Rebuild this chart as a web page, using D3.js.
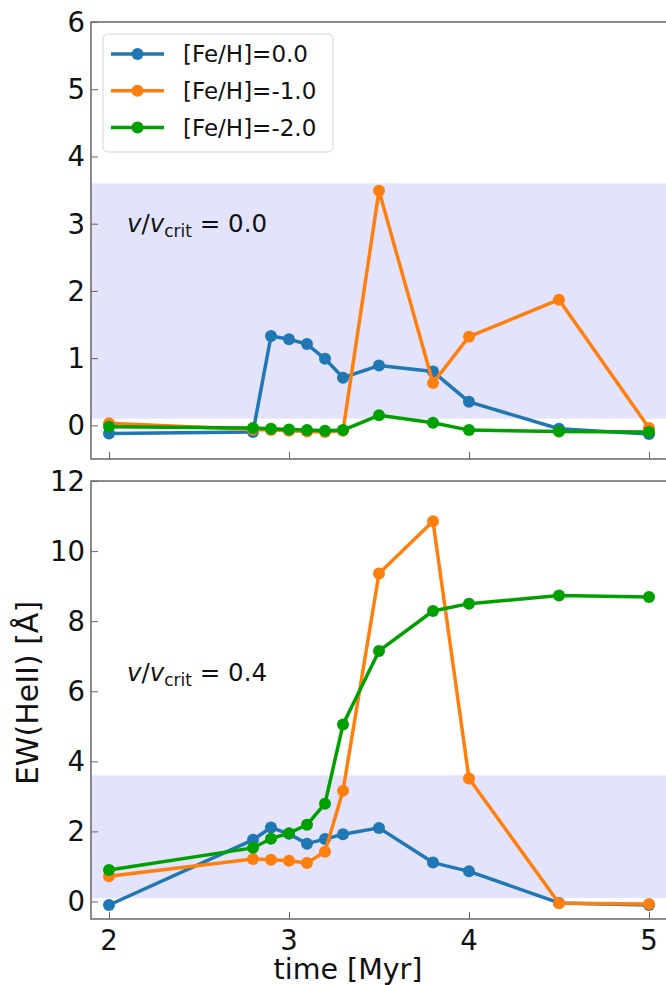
<!DOCTYPE html>
<html>
<head>
<meta charset="utf-8">
<script src="https://cdn.jsdelivr.net/npm/d3@7"></script>
<style>
  html, body { margin: 0; padding: 0; background: #fff; }
  svg { display: block; font-family: 'DejaVu Sans', sans-serif; }
</style>
</head>
<body>
<svg id="chart"></svg>
<script>
// ages of the models (Myr), shared by every series
const times = [2.0, 2.8, 2.9, 3.0, 3.1, 3.2, 3.3, 3.5, 3.8, 4.0, 4.5, 5.0];
const seriesNames = ['[Fe/H]=0.0', '[Fe/H]=-1.0', '[Fe/H]=-2.0'];
const seriesColors = ['#1f77b4', '#ff7f0e', '#00a000'];

// v/vcrit = 0.0
const ewRot00Fe0 = [-0.12, -0.10, 1.33, 1.28, 1.21, 0.99, 0.71, 0.89, 0.80, 0.35, -0.05, -0.13];
const ewRot00Fe1 = [0.03, -0.06, -0.07, -0.08, -0.09, -0.10, -0.08, 3.49, 0.63, 1.32, 1.87, -0.04];
const ewRot00Fe2 = [-0.02, -0.04, -0.05, -0.06, -0.07, -0.08, -0.07, 0.15, 0.04, -0.07, -0.09, -0.10];

// v/vcrit = 0.4
const ewRot04Fe0 = [-0.10, 1.76, 2.11, 1.93, 1.65, 1.78, 1.92, 2.10, 1.11, 0.86, -0.04, -0.10];
const ewRot04Fe1 = [0.72, 1.21, 1.19, 1.16, 1.10, 1.42, 3.16, 9.36, 10.85, 3.51, -0.05, -0.07];
const ewRot04Fe2 = [0.90, 1.53, 1.79, 1.95, 2.19, 2.79, 5.05, 7.15, 8.29, 8.50, 8.73, 8.69];

// observed range (shaded band)
const bandRange = [0.1, 3.6];

const xTicks = [2, 3, 4, 5];
const yTicksTop = [0, 1, 2, 3, 4, 5, 6];
const yTicksBottom = [0, 2, 4, 6, 8, 10, 12];

const w = 666, h = 985;
const plotLeft = 91, plotRight = 667;
const tickLen = 7, axisColor = '#666';

const chart = d3.select('#chart')
    .attr('width', w)
    .attr('height', h);

const xScale = d3.scaleLinear()
    .domain([1.9, 5.1])
    .range([plotLeft, plotRight]);

const makePanel = (id, top, bottom, yDomain, yTicks, series, label, labelY, showX) => {
    const yScale = d3.scaleLinear()
        .domain(yDomain)
        .range([bottom, top]);

    const g = chart.append('g');

    g.append('clipPath')
        .attr('id', id)
        .append('rect')
        .attr('x', plotLeft)
        .attr('y', top)
        .attr('width', plotRight - plotLeft)
        .attr('height', bottom - top);

    const inner = g.append('g').attr('clip-path', `url(#${id})`);

    inner.append('rect')
        .attr('x', plotLeft)
        .attr('width', plotRight - plotLeft)
        .attr('y', yScale(bandRange[1]))
        .attr('height', yScale(bandRange[0]) - yScale(bandRange[1]))
        .style('fill', '#e3e3fb');

    const line = d3.line()
        .x((d, i) => xScale(times[i]))
        .y(d => yScale(d));

    series.forEach((values, s) => {
        inner.append('path')
            .datum(values)
            .attr('d', line)
            .style('fill', 'none')
            .style('stroke', seriesColors[s])
            .style('stroke-width', 3.5)
            .style('stroke-linejoin', 'round');

        inner.selectAll(`.dot-${s}`)
            .data(values)
            .enter()
            .append('circle')
            .attr('cx', (d, i) => xScale(times[i]))
            .attr('cy', d => yScale(d))
            .attr('r', 6)
            .style('fill', seriesColors[s]);
    });

    // axes, ticks pointing inwards
    const yAxis = g.append('g')
        .attr('transform', `translate(${plotLeft}, 0)`)
        .call(d3.axisRight(yScale).tickValues(yTicks).tickSize(tickLen).tickFormat(''));
    yAxis.select('.domain').remove();
    yAxis.selectAll('line').style('stroke', axisColor);

    g.selectAll('.ylab')
        .data(yTicks)
        .enter()
        .append('text')
        .attr('x', plotLeft - 6)
        .attr('y', d => yScale(d))
        .attr('dy', '0.36em')
        .attr('text-anchor', 'end')
        .attr('font-size', '27.5px')
        .style('fill', '#111')
        .text(d => d);

    const xAxis = g.append('g')
        .attr('transform', `translate(0, ${bottom})`)
        .call(d3.axisTop(xScale).tickValues(xTicks).tickSize(tickLen).tickFormat(''));
    xAxis.select('.domain').remove();
    xAxis.selectAll('line').style('stroke', axisColor);

    if (showX) {
        g.selectAll('.xlab')
            .data(xTicks)
            .enter()
            .append('text')
            .attr('x', d => xScale(d))
            .attr('y', bottom + 31)
            .attr('text-anchor', 'middle')
            .attr('font-size', '27.5px')
            .style('fill', '#111')
            .text(d => d);
    }

    g.append('rect')
        .attr('x', plotLeft)
        .attr('y', top)
        .attr('width', plotRight - plotLeft)
        .attr('height', bottom - top)
        .style('fill', 'none')
        .style('stroke', axisColor)
        .style('stroke-width', 1.5);

    // v/vcrit annotation
    const note = g.append('text')
        .attr('x', 127)
        .attr('y', labelY)
        .attr('font-size', '24.5px')
        .style('fill', '#111');
    note.append('tspan').attr('font-style', 'italic').text('v');
    note.append('tspan').text('/');
    note.append('tspan').attr('font-style', 'italic').text('v');
    note.append('tspan').attr('font-size', '17px').attr('dy', 5).text('crit');
    note.append('tspan').attr('dy', -5).text(' = ' + label);

    return g;
};

makePanel('clipTop', 22, 459, [-0.5, 6], yTicksTop,
    [ewRot00Fe0, ewRot00Fe1, ewRot00Fe2], '0.0', 232, false);
makePanel('clipBottom', 481, 919, [-0.5, 12], yTicksBottom,
    [ewRot04Fe0, ewRot04Fe1, ewRot04Fe2], '0.4', 681, true);

// Legend in the top panel
const makeLegend = () => {
    const legend = chart.append('g');
    legend.append('rect')
        .attr('x', 103)
        .attr('y', 34)
        .attr('rx', 5)
        .attr('width', 230)
        .attr('height', 118)
        .style('fill', 'rgba(255, 255, 255, 0.8)')
        .style('stroke', '#d5d5d5');

    seriesNames.forEach((name, i) => {
        const y = 54 + i * 36.8;
        legend.append('line')
            .attr('x1', 111)
            .attr('x2', 164)
            .attr('y1', y)
            .attr('y2', y)
            .style('stroke', seriesColors[i])
            .style('stroke-width', 3.5);
        legend.append('circle')
            .attr('cx', 137.5)
            .attr('cy', y)
            .attr('r', 6)
            .style('fill', seriesColors[i]);
        legend.append('text')
            .attr('x', 183)
            .attr('y', y)
            .attr('dy', '0.36em')
            .attr('font-size', '23px')
            .style('fill', '#111')
            .text(name);
    });
};
makeLegend();

// Axis titles
chart.append('text')
    .attr('x', 348)
    .attr('y', 979)
    .attr('text-anchor', 'middle')
    .attr('font-size', '28.5px')
    .style('fill', '#111')
    .text('time [Myr]');

chart.append('text')
    .attr('transform', 'translate(38, 693) rotate(-90)')
    .attr('text-anchor', 'middle')
    .attr('font-size', '30px')
    .style('fill', '#111')
    .text('EW(HeII) [Å]');
</script>
</body>
</html>
